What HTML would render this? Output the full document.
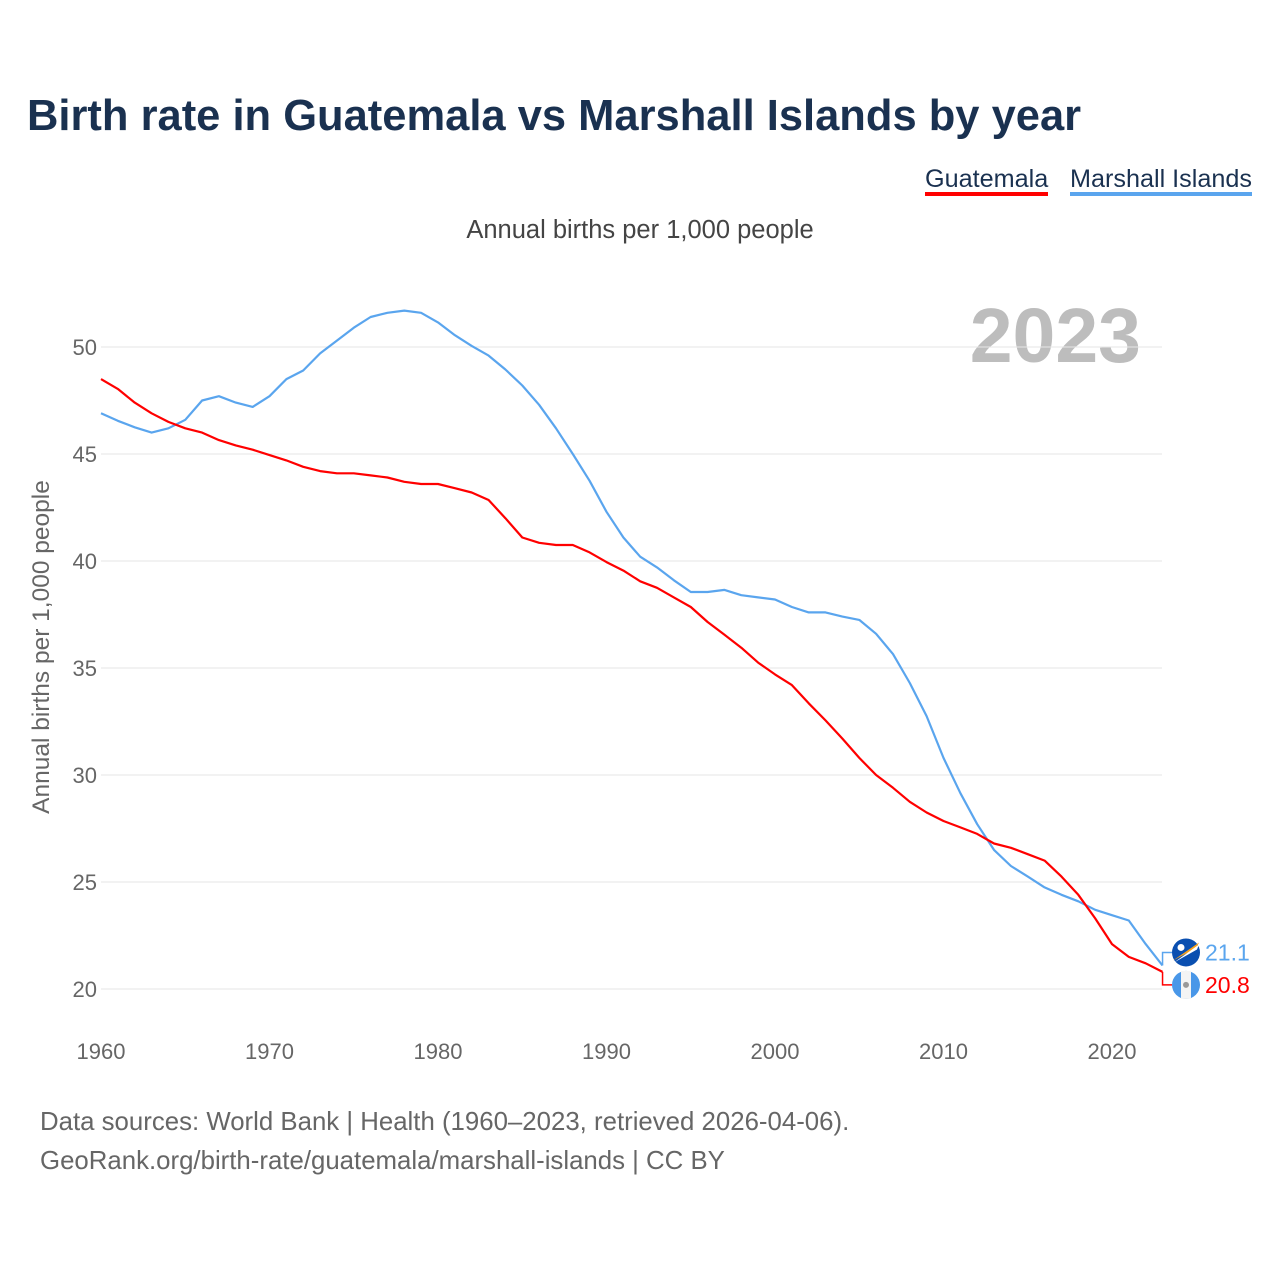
<!DOCTYPE html>
<html><head><meta charset="utf-8"><style>
body{margin:0;background:#fff;font-family:"Liberation Sans",sans-serif;}
#wrap{position:relative;width:1280px;height:1280px;overflow:hidden;}
.t{position:absolute;white-space:nowrap;}
</style></head><body>
<div id="wrap">
<div class="t" style="left:27px;top:92px;font-size:43.5px;font-weight:bold;color:#1a3150;">Birth rate in Guatemala vs Marshall Islands by year</div>
<div class="t" style="left:925px;top:166px;font-size:25.2px;color:#1a3150;border-bottom:4px solid #ff0000;line-height:26px;">Guatemala</div>
<div class="t" style="left:1070px;top:166px;font-size:25.2px;color:#1a3150;border-bottom:4px solid #5aa5ee;line-height:26px;">Marshall Islands</div>
<div class="t" style="left:0;width:1280px;text-align:center;top:216px;font-size:25.5px;color:#444;">Annual births per 1,000 people</div>
<div class="t" style="right:139px;top:292px;font-size:77px;font-weight:bold;color:#bdbdbd;">2023</div>
<div class="t" style="left:42px;top:647px;font-size:24.5px;color:#666;transform:translate(-50%,-50%) rotate(-90deg);">Annual births per 1,000 people</div>
<svg id="chart" width="1280" height="1280" style="position:absolute;left:0;top:0"></svg>
<div class="t" style="left:40px;top:1103px;font-size:25.8px;color:#666;line-height:39px;">Data sources: World Bank | Health (1960–2023, retrieved 2026-04-06).<br>GeoRank.org/birth-rate/guatemala/marshall-islands | CC BY</div>
</div>
<script>
const years=[];for(let y=1960;y<=2023;y++)years.push(y);
const guatemala=[48.5,48.04,47.4,46.9,46.5,46.2,46.0,45.65,45.4,45.2,44.95,44.7,44.4,44.2,44.1,44.1,44.0,43.9,43.7,43.6,43.6,43.4,43.2,42.85,42.0,41.1,40.85,40.75,40.75,40.4,39.95,39.55,39.05,38.75,38.3,37.85,37.15,36.55,35.95,35.25,34.7,34.2,33.35,32.55,31.7,30.8,30.0,29.4,28.75,28.25,27.85,27.55,27.25,26.8,26.6,26.3,26.0,25.25,24.4,23.3,22.1,21.5,21.2,20.8];
const marshall=[46.9,46.55,46.25,46.0,46.2,46.6,47.5,47.7,47.4,47.2,47.7,48.5,48.9,49.7,50.3,50.9,51.4,51.6,51.7,51.6,51.15,50.55,50.05,49.6,48.95,48.2,47.3,46.2,45.0,43.75,42.3,41.1,40.2,39.7,39.1,38.55,38.55,38.65,38.4,38.3,38.2,37.85,37.6,37.6,37.4,37.25,36.6,35.65,34.3,32.75,30.8,29.15,27.7,26.5,25.75,25.25,24.75,24.4,24.1,23.7,23.45,23.2,22.1,21.1];
const yTicks=[20,25,30,35,40,45,50];
const xTicks=[1960,1970,1980,1990,2000,2010,2020];
const NS="http://www.w3.org/2000/svg";
const svg=document.getElementById('chart');
const xS=y=>101+(y-1960)*(1112-101)/60;
const yS=v=>989-(v-20)*(989-347)/30;
function mk(tag,attrs,parent){const e=document.createElementNS(NS,tag);for(const k in attrs)e.setAttribute(k,attrs[k]);(parent||svg).appendChild(e);return e;}
yTicks.forEach(v=>{
  const l=mk('line',{x1:101,x2:1162,y1:yS(v),y2:yS(v),stroke:'#e6e6e6','stroke-width':1});
  
  
  const t=mk('text',{x:97,y:yS(v)+8,'text-anchor':'end','font-size':22,fill:'#666','font-family':'Liberation Sans, sans-serif'});
  t.textContent=v;
  
  
});
xTicks.forEach(v=>{
  const t=mk('text',{x:xS(v),y:1059,'text-anchor':'middle','font-size':22,fill:'#666','font-family':'Liberation Sans, sans-serif'});
  t.textContent=v;
  
  
});
function line(data,color,name){
  const d=data.map((v,i)=>(i?'L':'M')+xS(years[i]).toFixed(1)+','+yS(v).toFixed(1)).join('');
  const p=mk('path',{d:d,fill:'none',stroke:color,'stroke-width':2.2,'stroke-linejoin':'round'});
  
  
}
line(marshall,'#5aa5ee','line-marshall-islands');
line(guatemala,'#ff0000','line-guatemala');
const lx=xS(2023);
const gLast=guatemala[guatemala.length-1], mLast=marshall[marshall.length-1];
const gy=yS(gLast)+13, my=yS(mLast)-13;
const c1=mk('path',{d:`M${lx},${yS(mLast)}V${my}H1172`,fill:'none',stroke:'#5aa5ee','stroke-width':1.5});


const c2=mk('path',{d:`M${lx},${yS(gLast)}V${gy}H1172`,fill:'none',stroke:'#ff0000','stroke-width':1.5});


const fm=mk('g',{});


mk('circle',{cx:1186,cy:my,r:14,fill:'#0a4fb0'},fm);
mk('path',{d:`M1173,${my+8}L1199,${my-10}L1196,${my-4}Z`,fill:'#f7a21b'},fm);
mk('path',{d:`M1174,${my+10}L1199,${my-8}L1197,${my-3}Z`,fill:'#fff'},fm);
mk('circle',{cx:1181,cy:my-5,r:3.5,fill:'#fff'},fm);
const fg=mk('g',{});


mk('circle',{cx:1186,cy:gy,r:14,fill:'#4997e8'},fg);
mk('rect',{x:1181,y:gy-14,width:10,height:28,fill:'#f4f4f4'},fg);
mk('circle',{cx:1186,cy:gy,r:3,fill:'#999'},fg);
const tm=mk('text',{x:1205,y:my+8,'font-size':23,fill:'#5aa5ee','font-family':'Liberation Sans, sans-serif'});
tm.textContent=mLast.toFixed(1);


const tg=mk('text',{x:1205,y:gy+8,'font-size':23,fill:'#ff0000','font-family':'Liberation Sans, sans-serif'});
tg.textContent=gLast.toFixed(1);


</script>
</body></html>
